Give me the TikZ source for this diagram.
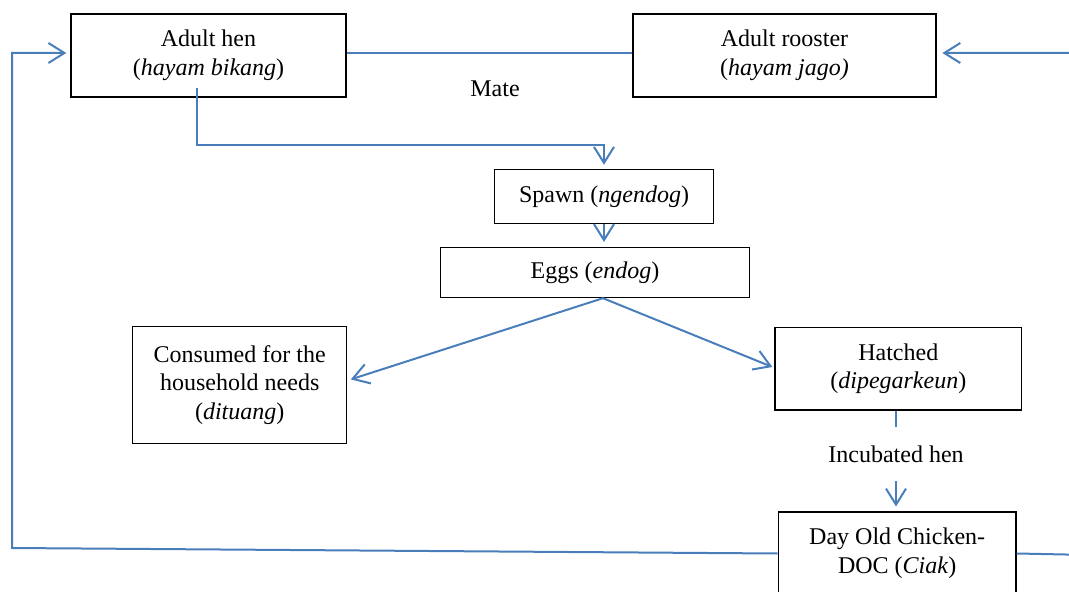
\documentclass[tikz,border=0pt]{standalone}
\usepackage{fontspec}
\setmainfont{Liberation Serif}
\usetikzlibrary{arrows.meta}
\definecolor{flowblue}{RGB}{74,126,187}

\begin{document}
\begin{tikzpicture}[
  x=0.5pt, y=-0.5pt,
  every node/.style={font=\fontsize{12}{14.3}\selectfont, align=center},
  box/.style={draw=black, line width=0.7pt, inner sep=0pt},
  lbl/.style={inner sep=0pt},
  flow/.style={draw=flowblue, line width=1pt},
  >={Straight Barb[length=8pt,width=10pt]}
]
\useasboundingbox (0,0) rectangle (1069,592);
\node[box, minimum width=137.5pt, minimum height=41.5pt] (hen) at (208.5,55.5) {Adult hen\\(\textit{hayam bikang})};
\node[box, minimum width=151.5pt, minimum height=41.5pt] (rooster) at (784.5,55.5) {Adult rooster\\(\textit{hayam jago)}};
\node[box, minimum width=109.5pt, minimum height=27pt] (spawn) at (604,196.5) {Spawn (\textit{ngendog})};
\node[box, minimum width=154.5pt, minimum height=25pt] (eggs) at (595,272.5) {Eggs (\textit{endog})};
\node[box, minimum width=107pt, minimum height=58.3pt] (consumed) at (239.7,385) {Consumed for the\\household needs\\(\textit{dituang})};
\node[box, minimum width=123.3pt, minimum height=41.3pt] (hatched) at (898.3,368.7) {Hatched\\(\textit{dipegarkeun})};
\node[box, minimum width=118.8pt, minimum height=41.5pt] (doc) at (897.2,553.5) {Day Old Chicken-\\DOC (\textit{Ciak})};
\node[lbl] (mate) at (495,89) {Mate};
\node[lbl, minimum height=26.5pt] (inc) at (896,454) {Incubated hen};
\coordinate (loopL) at (12,548);
\coordinate (loopLtop) at (12,53);
\coordinate (loopR) at (1090,555);
\coordinate (loopRtop) at (1090,53);
\draw[flow] ([yshift=1.25pt]hen.east) -- ([yshift=1.25pt]rooster.west);
\draw[flow,->] ([xshift=-5.75pt,yshift=5pt]hen.south) |- ([yshift=11.8pt]spawn.north) -- ([yshift=2pt]spawn.north);
\draw[flow,->,shorten >=2.4pt] (spawn.south) -- (spawn.south |- eggs.north);
\draw[flow,->] ([xshift=4pt]eggs.south) -- ([xshift=1.7pt,yshift=2.8pt]consumed.east);
\draw[flow,->] ([xshift=4pt]eggs.south) -- ([xshift=-1pt,yshift=0.85pt]hatched.west);
\draw[flow] (inc.north |- hatched.south) -- (inc.north);
\draw[flow,->,shorten >=2.4pt] (inc.south) -- (inc.south |- doc.north);
\draw[flow,->] (doc.west) -- (loopL) -- (loopLtop) -- ([xshift=-2pt,yshift=1.25pt]hen.west);
\draw[flow,->] (doc.east) -- (loopR) -- (loopRtop) -- ([xshift=2.85pt,yshift=1.25pt]rooster.east);
\end{tikzpicture}
\end{document}
